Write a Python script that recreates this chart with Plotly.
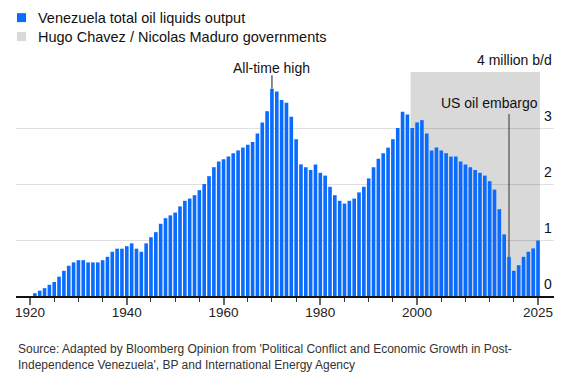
import plotly.graph_objects as go

years = list(range(1921, 2026))
output_mbd = [
    0.05, 0.095, 0.14, 0.20, 0.25, 0.345, 0.45, 0.54, 0.60, 0.64,   # 1921-1930
    0.64, 0.60, 0.60, 0.60, 0.64, 0.70, 0.79, 0.845, 0.845, 0.89,   # 1931-1940
    0.94, 0.845, 0.79, 0.94, 1.05, 1.14, 1.29, 1.39, 1.44, 1.49,    # 1941-1950
    1.60, 1.70, 1.74, 1.80, 1.89, 2.00, 2.14, 2.30, 2.40, 2.44,     # 1951-1960
    2.49, 2.55, 2.60, 2.65, 2.70, 2.75, 2.90, 3.10, 3.30, 3.70,     # 1961-1970
    3.65, 3.50, 3.45, 3.20, 2.80, 2.35, 2.30, 2.25, 2.35, 2.20,     # 1971-1980
    2.15, 1.95, 1.80, 1.70, 1.65, 1.70, 1.74, 1.85, 1.95, 2.10,     # 1981-1990
    2.30, 2.45, 2.55, 2.65, 2.80, 3.00, 3.29, 3.24, 3.00, 3.10,     # 1991-2000
    3.14, 2.90, 2.60, 2.65, 2.60, 2.55, 2.49, 2.49, 2.40, 2.35,     # 2001-2010
    2.30, 2.25, 2.20, 2.15, 2.05, 1.90, 1.55, 1.10, 0.70, 0.45,     # 2011-2020
    0.55, 0.70, 0.79, 0.85, 0.99,                                   # 2021-2025
]

gov_start, gov_end = 1998.65, 2025.4
x_tick_vals = [1920, 1940, 1960, 1980, 2000, 2025]
x_tick_text = ["1920", "1940", "1960", "1980", "2000", "2025"]
minor_ticks = [y for y in range(1925, 2025, 5) if y not in x_tick_vals]
y_tick_vals = [0, 1, 2, 3, 4]
y_tick_text = ["0", "1", "2", "3", "4 million b/d"]

peak_year, peak_val = 1970, 3.70
embargo_year, embargo_val = 2019, 0.70

legend_items = [
    ("Venezuela total oil liquids output", "#0a6cff"),
    ("Hugo Chavez / Nicolas Maduro governments", "#d9d9d9"),
]

FONT = "Liberation Sans, Arial, sans-serif"
BLUE = "#0a6cff"

W, H = 584, 382
ML, MR, MT, MB = 16, 30, 71.5, 86
PW = W - ML - MR
PH = H - MT - MB


def px_x(px):
    return (px - ML) / PW


def px_y(py):
    return (H - MB - py) / PH


fig = go.Figure()
fig.add_trace(go.Bar(
    x=years, y=output_mbd, marker=dict(color=BLUE, line=dict(width=0)),
    showlegend=False, hoverinfo="x+y",
))

shapes = [
    dict(type="rect", xref="x", yref="y", x0=gov_start, x1=gov_end, y0=0, y1=4,
         fillcolor="#d9d9d9", line=dict(width=0), layer="below"),
    dict(type="line", xref="x", yref="y", x0=peak_year, x1=peak_year, y0=peak_val, y1=3.94,
         line=dict(color="#666666", width=1.5)),
    dict(type="line", xref="x", yref="y", x0=embargo_year, x1=embargo_year, y0=embargo_val, y1=3.25,
         line=dict(color="#333333", width=1)),
]

annotations = []
# legend
for i, (label, color) in enumerate(legend_items):
    cy = 17 + i * 19
    shapes.append(dict(type="rect", xref="paper", yref="paper",
                       x0=px_x(17), x1=px_x(26), y0=px_y(cy + 4.5), y1=px_y(cy - 4.5),
                       fillcolor=color, line=dict(width=0)))
    annotations.append(dict(xref="paper", yref="paper", x=px_x(36), y=px_y(cy),
                            xanchor="left", yanchor="middle", showarrow=False,
                            text=label, font=dict(size=14.5, color="#111111", family=FONT)))

# y-axis labels above gridlines on the right
for v, t in zip(y_tick_vals, y_tick_text):
    annotations.append(dict(xref="paper", yref="y", x=px_x(554), y=v, xanchor="right",
                            yanchor="bottom", yshift=2, showarrow=False, text=t,
                            font=dict(size=14, color="#111111", family=FONT)))

annotations.append(dict(xref="x", yref="paper", x=peak_year, y=px_y(67), xanchor="center",
                        yanchor="middle", showarrow=False, text="All-time high",
                        font=dict(size=14, color="#111111", family=FONT)))
annotations.append(dict(xref="paper", yref="paper", x=px_x(540), y=px_y(103), xanchor="right",
                        yanchor="middle", showarrow=False, text="US oil embargo",
                        font=dict(size=14, color="#111111", family=FONT)))
annotations.append(dict(xref="paper", yref="paper", x=px_x(16), y=px_y(340), xanchor="left",
                        yanchor="top", showarrow=False, align="left",
                        text="Source: Adapted by Bloomberg Opinion from 'Political Conflict and Economic Growth in Post-<br>Independence Venezuela', BP and International Energy Agency",
                        font=dict(size=12, color="#333333", family=FONT)))

fig.update_layout(
    width=W, height=H,
    margin=dict(l=ML, r=MR, t=MT, b=MB, pad=0),
    paper_bgcolor="white", plot_bgcolor="rgba(0,0,0,0)",
    bargap=0.25,
    showlegend=False,
    shapes=shapes,
    annotations=annotations,
    font=dict(family=FONT, size=14, color="#111111"),
    xaxis=dict(
        range=[1917.1, 2028.3], showgrid=False, zeroline=False,
        showline=True, linecolor="#111111", linewidth=1.5,
        tickvals=x_tick_vals, ticktext=x_tick_text,
        ticks="outside", ticklen=7, tickcolor="#666666", tickwidth=2,
        ticklabelstandoff=-4,
        tickfont=dict(size=13.5, color="#222222", family=FONT),
        minor=dict(tickvals=minor_ticks, ticks="outside", ticklen=4, tickcolor="#333333", tickwidth=1),
        fixedrange=True,
    ),
    yaxis=dict(
        range=[0, 4], showgrid=True, gridcolor="rgba(0,0,0,0.12)", gridwidth=1,
        tickvals=y_tick_vals, showticklabels=False, zeroline=False, showline=False,
        fixedrange=True,
    ),
)

fig.write_html(
    "out.html",
    config={"displayModeBar": False},
    post_script="document.body.style.margin='0';document.body.style.overflow='hidden';",
)
